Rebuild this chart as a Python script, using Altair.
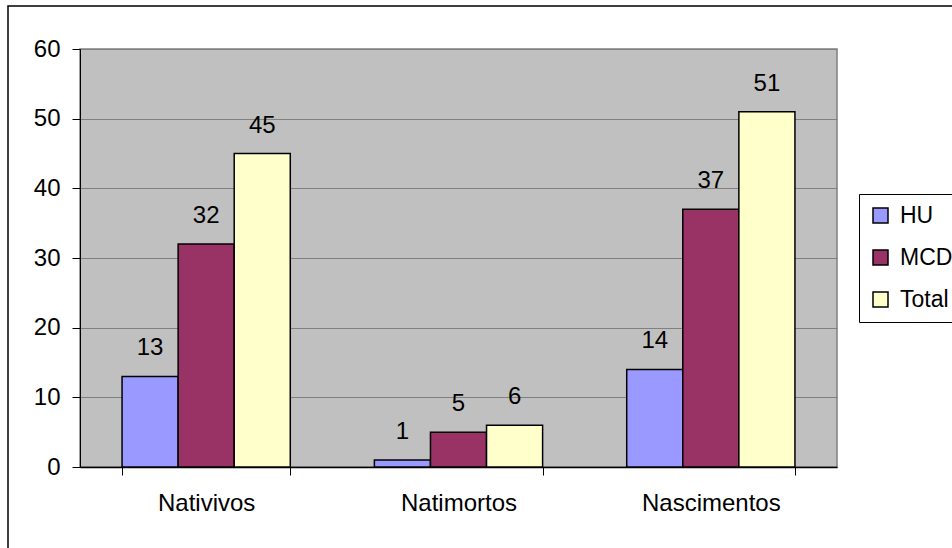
import altair as alt
import pandas as pd

categories = ["Nativivos", "Natimortos", "Nascimentos"]
series = ["HU", "MCD", "Total"]
hu = [13, 1, 14]
mcd = [32, 5, 37]
total = [45, 6, 51]
colors = ["#9999FF", "#993366", "#FFFFCC"]
y_ticks = [0, 10, 20, 30, 40, 50, 60]

rows = []
for i, c in enumerate(categories):
    for s, vals in zip(series, [hu, mcd, total]):
        rows.append({"cat": c, "serie": s, "valor": vals[i]})
df = pd.DataFrame(rows)

FONT = "Liberation Sans"

x_enc = alt.X(
    "cat:N", sort=categories,
    scale=alt.Scale(paddingInner=1/3, paddingOuter=1/6),
    axis=alt.Axis(title=None, labelAngle=0, tickBand="extent", tickSize=8,
                  labelPadding=16, labelFontSize=24, labelFont=FONT,
                  labelColor="black", domainColor="black", tickColor="black",
                  domainWidth=1.5, grid=False),
)
xoff_enc = alt.XOffset("serie:N", sort=series,
                       scale=alt.Scale(paddingInner=0, paddingOuter=0))
y_enc = alt.Y(
    "valor:Q", scale=alt.Scale(domain=[0, 60], nice=False),
    axis=alt.Axis(title=None, values=y_ticks, tickSize=8, labelPadding=12,
                  labelFontSize=24, labelFont=FONT, labelColor="black",
                  domainColor="black", tickColor="black", gridColor="#808080",
                  gridWidth=1, domainWidth=1),
)

base = alt.Chart(df).encode(x=x_enc, xOffset=xoff_enc, y=y_enc)

bars = base.mark_bar(stroke="black", strokeWidth=1.5).encode(
    color=alt.Color(
        "serie:N", sort=series,
        scale=alt.Scale(domain=series, range=colors),
        legend=alt.Legend(
            title=None, orient="none", legendX=779, legendY=145,
            symbolType="square", symbolSize=225, symbolStrokeColor="black",
            symbolStrokeWidth=1.5, labelFontSize=23, labelFont=FONT,
            labelColor="black", strokeColor="black", fillColor="white",
            padding=10, rowPadding=18, labelOffset=8, symbolOpacity=1,
        ),
    )
)

labels = base.mark_text(dy=-21, baseline="alphabetic", fontSize=24,
                        font=FONT, color="black").encode(text="valor:Q")

frame = alt.Chart(pd.DataFrame({"a": [0]})).mark_rect(
    fillOpacity=0, stroke="black", strokeWidth=1.5, clip=False
).encode(x=alt.value(-72), x2=alt.value(900), y=alt.value(-43), y2=alt.value(520))

chart = alt.layer(frame, bars, labels).properties(
    width=757, height=418,
    padding={"left": 80, "top": 49, "right": 115, "bottom": 81},
    autosize=alt.AutoSizeParams(type="none"),
    background="white",
).configure_view(stroke="#808080", fill="#C0C0C0", strokeWidth=1.5)

chart.save("out.html", embed_options={"renderer": "svg", "actions": False})
